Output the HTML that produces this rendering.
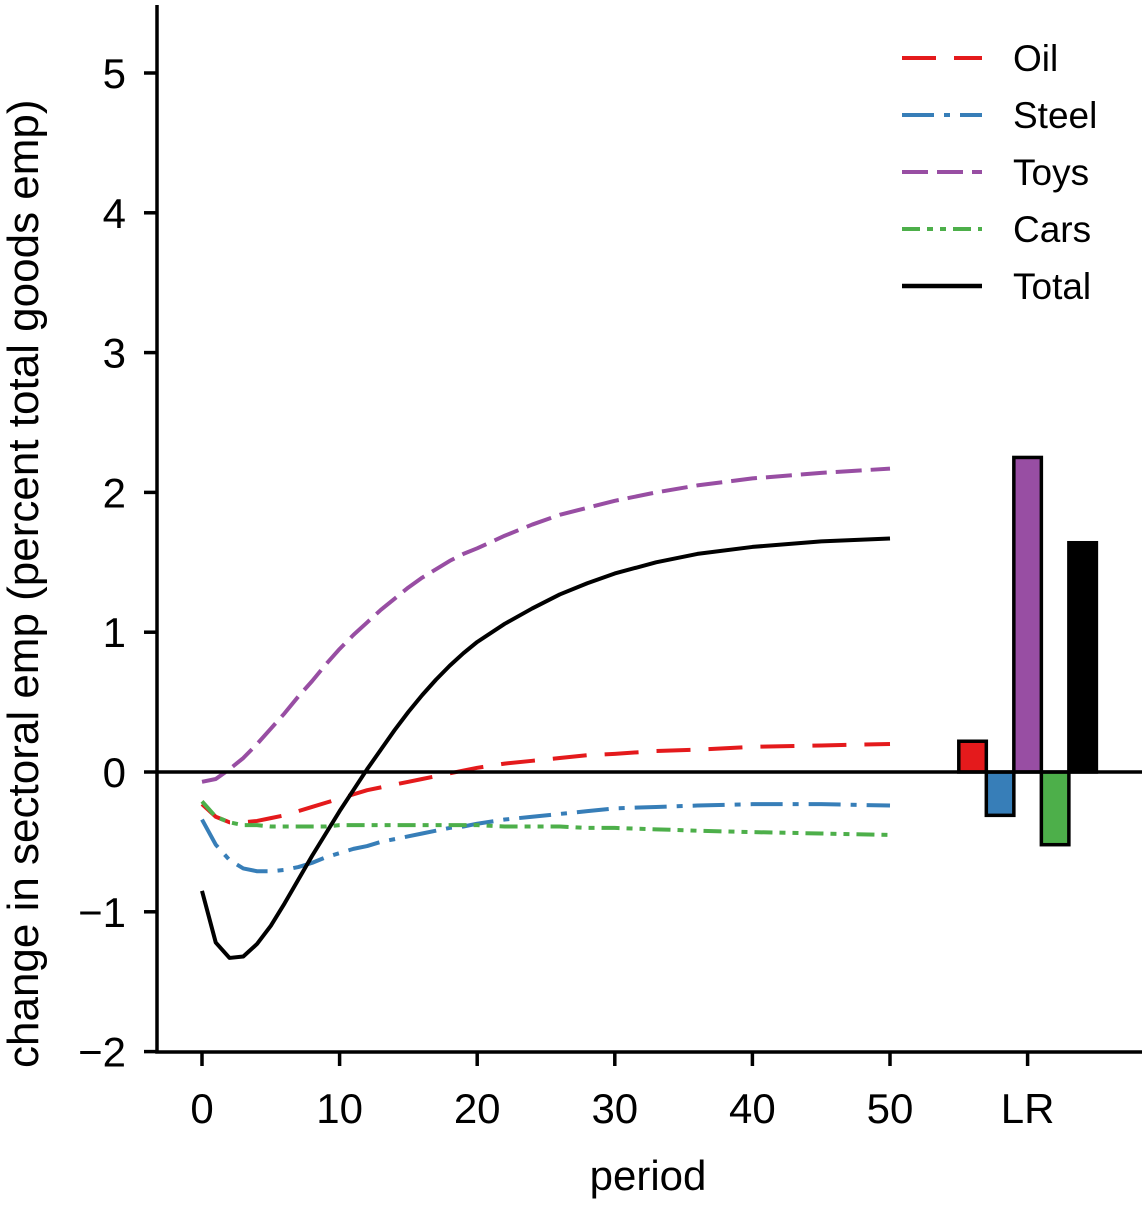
<!DOCTYPE html>
<html><head><meta charset="utf-8"><style>
body{margin:0;background:#fff}
svg text{font-family:"Liberation Sans",sans-serif;fill:#000}
</style></head><body>
<svg id="chart" width="1145" height="1200" viewBox="0 0 1145 1200" xmlns="http://www.w3.org/2000/svg">
<g id="plot"></g>
</svg>
<script>
const periods=[0,1,2,3,4,5,6,7,8,9,10,11,12,13,14,15,16,17,18,19,20,22,24,26,28,30,33,36,40,45,50];
const oil=[-0.23,-0.32,-0.36,-0.36,-0.35,-0.33,-0.31,-0.28,-0.25,-0.22,-0.19,-0.16,-0.13,-0.11,-0.09,-0.07,-0.05,-0.03,-0.01,0.01,0.03,0.06,0.08,0.1,0.12,0.13,0.15,0.16,0.18,0.19,0.2];
const steel=[-0.34,-0.52,-0.63,-0.69,-0.71,-0.71,-0.7,-0.68,-0.65,-0.61,-0.58,-0.55,-0.53,-0.5,-0.48,-0.46,-0.44,-0.42,-0.4,-0.39,-0.37,-0.34,-0.32,-0.3,-0.28,-0.26,-0.25,-0.24,-0.23,-0.23,-0.24];
const toys=[-0.07,-0.05,0.02,0.1,0.2,0.31,0.42,0.54,0.65,0.77,0.88,0.98,1.07,1.16,1.24,1.32,1.39,1.45,1.51,1.56,1.6,1.69,1.77,1.84,1.89,1.94,2.0,2.05,2.1,2.14,2.17];
const cars=[-0.21,-0.32,-0.36,-0.38,-0.38,-0.39,-0.39,-0.39,-0.39,-0.39,-0.38,-0.38,-0.38,-0.38,-0.38,-0.38,-0.38,-0.38,-0.38,-0.38,-0.38,-0.39,-0.39,-0.39,-0.4,-0.4,-0.41,-0.42,-0.43,-0.44,-0.45];
const total=[-0.85,-1.22,-1.33,-1.32,-1.23,-1.1,-0.94,-0.77,-0.6,-0.44,-0.28,-0.13,0.02,0.16,0.3,0.43,0.55,0.66,0.76,0.85,0.93,1.06,1.17,1.27,1.35,1.42,1.5,1.56,1.61,1.65,1.67];
const lrNames=["Oil","Steel","Toys","Cars","Total"];
const lrValues=[0.22,-0.31,2.25,-0.52,1.64];
const lrPos=[56,58,60,62,64];
const xTicks=[0,10,20,30,40,50];
const yTicks=[-2,-1,0,1,2,3,4,5];

const X=v=>202+v*13.76;
const Y=v=>772-v*139.8;
const NS="http://www.w3.org/2000/svg";
const g=document.getElementById('plot');
function mk(t,a,txt){const e=document.createElementNS(NS,t);for(const k in a)e.setAttribute(k,a[k]);if(txt!==undefined)e.textContent=txt;g.appendChild(e);return e;}

const series=[
 {n:"oil",d:oil,c:"#e41a1c",da:"34 18",lab:"Oil"},
 {n:"steel",d:steel,c:"#377eb8",da:"32 10 6 10",lab:"Steel"},
 {n:"toys",d:toys,c:"#984ea3",da:"26 9",lab:"Toys"},
 {n:"cars",d:cars,c:"#4daf4a",da:"18 7 6 7 6 7",lab:"Cars"},
 {n:"total",d:total,c:"#000",da:"none",lab:"Total"}
];
lrValues.forEach((v,i)=>{
 const x0=X(lrPos[i]-1),x1=X(lrPos[i]+1);
 const b=mk('rect',{x:x0,y:Math.min(Y(0),Y(v)),width:x1-x0,height:Math.abs(Y(v)-Y(0)),fill:series[i].c,stroke:"#000","stroke-width":3.5});
 
 
});
series.forEach(s=>{
 const p=mk('polyline',{points:periods.map((t,i)=>X(t)+","+Y(s.d[i])).join(" "),fill:"none",stroke:s.c,"stroke-width":4,"stroke-dasharray":s.da,"stroke-linejoin":"round"});
 
 
});
const z=mk('line',{x1:157,x2:1142,y1:Y(0),y2:Y(0),stroke:"#000","stroke-width":3.5});


const ax=mk('path',{d:"M157,5 V1052 H1142",fill:"none",stroke:"#000","stroke-width":3.5});


yTicks.forEach(v=>{
 const t=mk('line',{x1:144,x2:157,y1:Y(v),y2:Y(v),stroke:"#000","stroke-width":3.5});
 
 
 const l=mk('text',{x:126,y:Y(v)+15,"text-anchor":"end","font-size":42},v<0?"\u2212"+(-v):String(v));
 
 
});
xTicks.concat([60]).forEach(v=>{
 const t=mk('line',{x1:X(v),x2:X(v),y1:1052,y2:1066,stroke:"#000","stroke-width":3.5});
 
 
 const l=mk('text',{x:X(v),y:1123,"text-anchor":"middle","font-size":42},v===60?"LR":String(v));
 
 
});
const xt=mk('text',{x:648,y:1190,"text-anchor":"middle","font-size":42},"period");


const yt=mk('text',{x:0,y:0,"text-anchor":"start","font-size":44,transform:"translate(38,1068) rotate(-90)"},"change in sectoral emp (percent total goods emp)");


series.forEach((s,i)=>{
 const y=58+i*57;
 const l=mk('line',{x1:902,x2:982,y1:y,y2:y,stroke:s.c,"stroke-width":s.n==="total"?4.5:4,"stroke-dasharray":s.da});
 
 
 const t=mk('text',{x:1013,y:y+13,"font-size":37},s.lab);
 
 
});
</script>
</body></html>
